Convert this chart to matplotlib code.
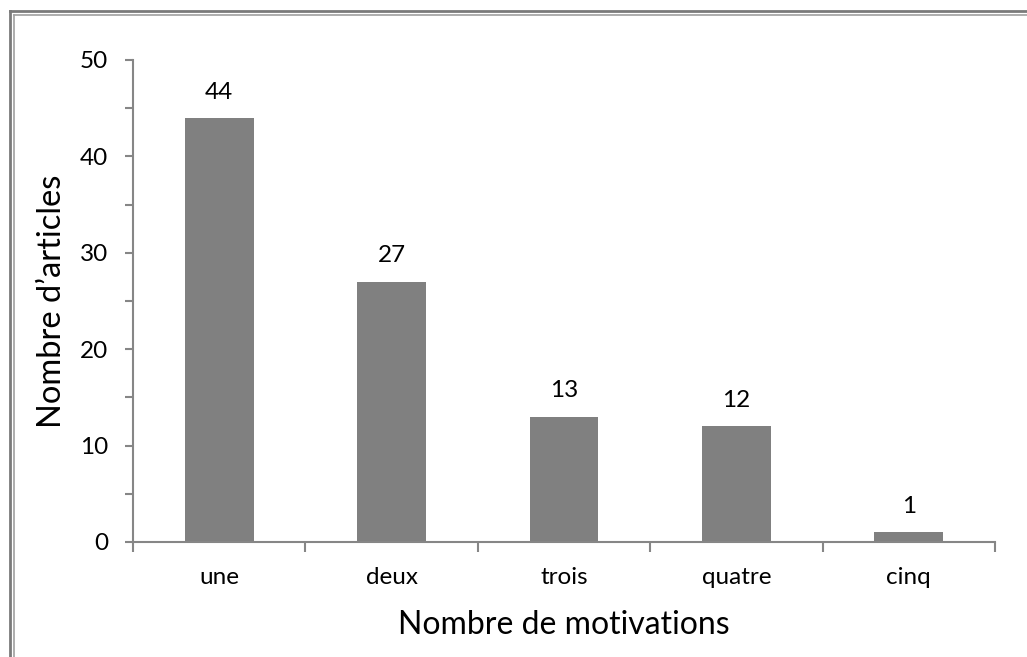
import matplotlib.pyplot as plt
from matplotlib.lines import Line2D

categories = ['une', 'deux', 'trois', 'quatre', 'cinq']
counts = [44, 27, 13, 12, 1]

plt.rcParams['font.family'] = ['Lato', 'DejaVu Sans']

W, H = 1027, 657
fig = plt.figure(figsize=(W / 100, H / 100), dpi=100)
ax = fig.add_axes([133 / W, 1 - 542 / H, (995 - 133) / W, (542 - 60) / H])

pos = list(range(len(categories)))
bars = ax.bar(pos, counts, width=0.4, color='#808080')
for x, v in zip(pos, counts):
    ax.annotate(str(v), (x, v), xytext=(0, 11), textcoords='offset points',
                ha='center', va='bottom', fontsize=17.5)

ax.set_xlim(-0.5, len(categories) - 0.5)
ax.set_ylim(0, 50)
ax.set_yticks(range(0, 51, 10))
ax.set_yticks(range(0, 51, 5), minor=True)
ax.set_xticks(pos)
ax.set_xticklabels(categories)
ax.set_xticks([p - 0.5 for p in pos] + [len(pos) - 0.5], minor=True)

spine_c = '#868686'
for s in ['top', 'right']:
    ax.spines[s].set_visible(False)
for s in ['left', 'bottom']:
    ax.spines[s].set_color(spine_c)
    ax.spines[s].set_linewidth(1.5)

ax.tick_params(axis='y', which='both', length=6, width=1.5, color=spine_c, labelsize=17.5, pad=12)
ax.tick_params(axis='x', which='major', length=0, labelsize=17.5, pad=18)
ax.tick_params(axis='x', which='minor', length=7, width=1.5, color=spine_c)

ax.set_xlabel('Nombre de motivations', fontsize=23, labelpad=16)
ax.set_ylabel('Nombre d\u2019articles', fontsize=23.5, labelpad=9)

# double frame, left and top only
fig.add_artist(Line2D([10 / W, 10 / W], [0, 1 - 11 / H], color='#7a7a7a', lw=2, transform=fig.transFigure))
fig.add_artist(Line2D([10 / W, 1], [1 - 11 / H, 1 - 11 / H], color='#7a7a7a', lw=2, transform=fig.transFigure))
fig.add_artist(Line2D([14 / W, 14 / W], [0, 1 - 15 / H], color='#a0a0a0', lw=1.2, transform=fig.transFigure))
fig.add_artist(Line2D([14 / W, 1], [1 - 15 / H, 1 - 15 / H], color='#a0a0a0', lw=1.2, transform=fig.transFigure))

fig.savefig('out.png', dpi=100)
